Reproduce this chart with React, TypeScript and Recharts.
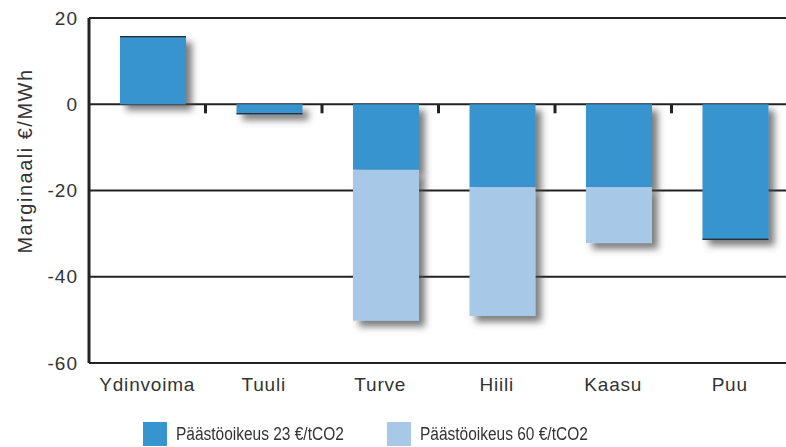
import React from "react";
import { BarChart, Bar, XAxis, YAxis, CartesianGrid, ReferenceLine, Label } from "recharts";

const categories = ["Ydinvoima", "Tuuli", "Turve", "Hiili", "Kaasu", "Puu"];
// marginal at 23 €/tCO2
const margin23 = [15.8, -2.3, -15.2, -19.2, -19.2, -31.4];
// marginal at 60 €/tCO2 (total bar length)
const margin60 = [15.8, -2.3, -50.2, -49.1, -32.2, -31.4];
const yTicks = [20, 0, -20, -40, -60];
const boundaries = [1, 2, 3, 4, 5];
const legendItems = ["Päästöoikeus 23 €/tCO2", "Päästöoikeus 60 €/tCO2"];

const DARK = "#3794cf";
const LIGHT = "#a8c8e7";
const INK = "#222";
const FONT = "'Liberation Sans', Arial, sans-serif";

const data = categories.map((name, i) => ({
  name,
  idx: i + 0.5,
  low: margin23[i],
  extra: +(margin60[i] - margin23[i]).toFixed(1),
}));

const SHIFT = 6;

function ShadowBar(props: any) {
  const { x, y, width, height, fill, payload, dataKey } = props;
  if (!height) return null;
  const top = Math.min(y, y + height);
  const h = Math.abs(height);
  const bx = x + SHIFT;
  let edge = null;
  if (dataKey === "low" && payload.extra === 0) {
    const ey = payload.low > 0 ? top : top + h - 1;
    edge = <rect x={bx} y={ey} width={width} height={1.2} fill={INK} />;
  }
  return (
    <g>
      <rect x={bx} y={top} width={width} height={h} fill={fill} filter="url(#barShadow)" />
      {edge}
    </g>
  );
}

function LegendBox() {
  const colors = [DARK, LIGHT];
  const lefts = [143, 387];
  return (
    <div style={{ position: "absolute", left: 0, top: 422, width: 786, height: 25 }}>
      {legendItems.map((label, i) => (
        <div key={label} style={{ position: "absolute", left: lefts[i], top: 0, display: "flex", alignItems: "center" }}>
          <span style={{ width: 24, height: 24, background: colors[i], display: "inline-block" }} />
          <span
            style={{
              marginLeft: 9,
              fontFamily: FONT,
              fontSize: 18,
              color: "#333",
              display: "inline-block",
              transform: "scaleX(0.86)",
              transformOrigin: "left center",
              whiteSpace: "nowrap",
            }}
          >
            {label}
          </span>
        </div>
      ))}
    </div>
  );
}

export default function App() {
  return (
    <div style={{ position: "absolute", left: 0, top: 0, width: 786, height: 447, background: "#fff" }}>
      <BarChart
        width={786}
        height={447}
        data={data}
        margin={{ top: 18, right: -2, left: 0, bottom: 54 }}
        barSize={66}
      >
        <defs>
          <filter id="barShadow" filterUnits="userSpaceOnUse" x="0" y="0" width="800" height="460">
            <feDropShadow dx="6" dy="6" stdDeviation="3.5" floodColor="#444" floodOpacity="0.7" />
          </filter>
        </defs>
        <CartesianGrid vertical={false} stroke={INK} strokeWidth={2} strokeOpacity={1} />
        <XAxis
          xAxisId="cat"
          dataKey="name"
          axisLine={false}
          tickLine={false}
          interval={0}
          tickMargin={9}
          height={30}
          tick={{ fill: "#333", fontSize: 19, fontFamily: FONT, letterSpacing: 0.8 }}
        />
        <XAxis xAxisId="num" dataKey="idx" type="number" domain={[0, 6]} hide allowDataOverflow />
        <YAxis
          domain={[-60, 20]}
          ticks={yTicks}
          width={89}
          interval={0}
          tickLine={false}
          axisLine={{ stroke: INK, strokeWidth: 3 }}
          tickMargin={5}
          tick={{ fill: "#333", fontSize: 19, fontFamily: FONT, letterSpacing: 1 }}
        >
          <Label
            content={() => (
              <text
                x={32}
                y={161}
                transform="rotate(-90 32 161)"
                textAnchor="middle"
                fill="#333"
                fontSize={20}
                letterSpacing={1.5}
                fontFamily={FONT}
              >
                Marginaali €/MWh
              </text>
            )}
          />
        </YAxis>
        {boundaries.map((b) => (
          <ReferenceLine
            key={b}
            xAxisId="num"
            segment={[
              { x: b, y: 0 },
              { x: b, y: -2.1 },
            ]}
            stroke={INK}
            strokeWidth={3}
          />
        ))}
        <Bar xAxisId="cat" dataKey="low" stackId="a" fill={DARK} shape={<ShadowBar />} isAnimationActive={false} />
        <Bar xAxisId="cat" dataKey="extra" stackId="a" fill={LIGHT} shape={<ShadowBar />} isAnimationActive={false} />
      </BarChart>
      <LegendBox />
    </div>
  );
}
